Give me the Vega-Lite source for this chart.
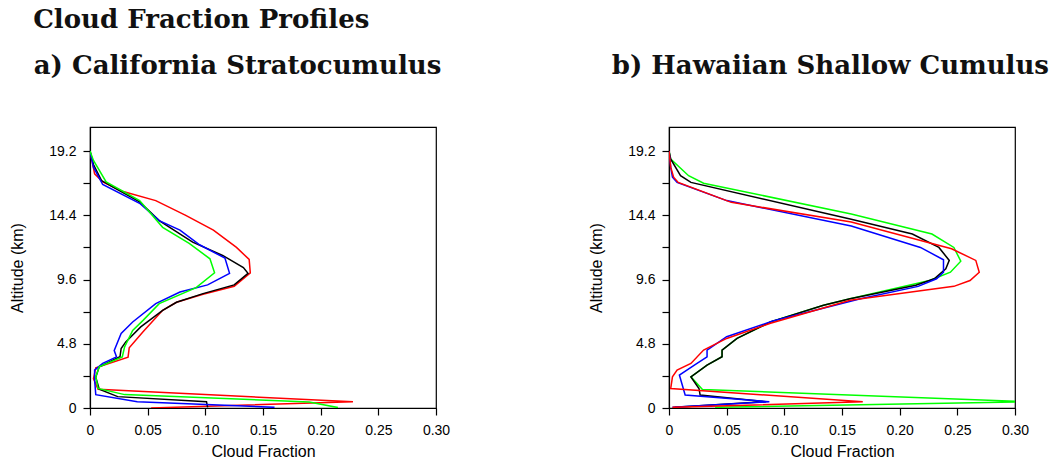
{
  "$schema": "https://vega.github.io/schema/vega-lite/v6.json",
  "padding": {"left": 9, "top": 7, "right": 0, "bottom": 0},
  "background": "white",
  "title": {"text": "Cloud Fraction Profiles", "anchor": "start", "font": "DejaVu Serif", "fontSize": 26, "fontWeight": "bold", "color": "#111", "dx": 24, "offset": 19},
  "config": {
    "view": {"stroke": "#000", "strokeWidth": 1.2},
    "axis": {"domainColor": "#000", "tickColor": "#000", "labelColor": "#000", "titleColor": "#000", "labelFont": "Liberation Sans", "titleFont": "Liberation Sans", "labelFontSize": 14, "titleFontSize": 16, "titleFontWeight": "normal", "grid": false, "tickSize": 7, "domainWidth": 1.2, "tickWidth": 1.2}
  },
  "datasets": {
    "a": [
      {"s":"red","cf":0,"alt":19.2},{"s":"red","cf":0.004,"alt":17.5},{"s":"red","cf":0.011,"alt":16.9},{"s":"red","cf":0.028,"alt":16.2},{"s":"red","cf":0.057,"alt":15.5},{"s":"red","cf":0.083,"alt":14.4},{"s":"red","cf":0.107,"alt":13.3},{"s":"red","cf":0.127,"alt":12.0},{"s":"red","cf":0.138,"alt":11.1},{"s":"red","cf":0.139,"alt":10.1},{"s":"red","cf":0.125,"alt":9.1},{"s":"red","cf":0.098,"alt":8.5},{"s":"red","cf":0.075,"alt":7.9},{"s":"red","cf":0.063,"alt":7.3},{"s":"red","cf":0.046,"alt":5.7},{"s":"red","cf":0.034,"alt":4.5},{"s":"red","cf":0.033,"alt":3.8},{"s":"red","cf":0.005,"alt":3.0},{"s":"red","cf":0.003,"alt":2.2},{"s":"red","cf":0.007,"alt":1.4},{"s":"red","cf":0.228,"alt":0.47},{"s":"red","cf":0.053,"alt":0.0},
      {"s":"black","cf":0,"alt":19.2},{"s":"black","cf":0.003,"alt":18.2},{"s":"black","cf":0.01,"alt":17.0},{"s":"black","cf":0.02,"alt":16.5},{"s":"black","cf":0.043,"alt":15.4},{"s":"black","cf":0.06,"alt":14.0},{"s":"black","cf":0.089,"alt":12.4},{"s":"black","cf":0.115,"alt":11.4},{"s":"black","cf":0.133,"alt":10.5},{"s":"black","cf":0.137,"alt":10.06},{"s":"black","cf":0.125,"alt":9.2},{"s":"black","cf":0.098,"alt":8.55},{"s":"black","cf":0.075,"alt":7.9},{"s":"black","cf":0.063,"alt":7.3},{"s":"black","cf":0.044,"alt":6.06},{"s":"black","cf":0.031,"alt":4.94},{"s":"black","cf":0.027,"alt":4.45},{"s":"black","cf":0.026,"alt":3.83},{"s":"black","cf":0.008,"alt":3.08},{"s":"black","cf":0.005,"alt":2.3},{"s":"black","cf":0.008,"alt":1.4},{"s":"black","cf":0.024,"alt":0.85},{"s":"black","cf":0.101,"alt":0.47},{"s":"black","cf":0.102,"alt":0.05},
      {"s":"blue","cf":0,"alt":19.2},{"s":"blue","cf":0.003,"alt":18.0},{"s":"blue","cf":0.011,"alt":16.7},{"s":"blue","cf":0.043,"alt":15.3},{"s":"blue","cf":0.06,"alt":14.0},{"s":"blue","cf":0.078,"alt":13.3},{"s":"blue","cf":0.095,"alt":12.2},{"s":"blue","cf":0.117,"alt":11.2},{"s":"blue","cf":0.121,"alt":10.06},{"s":"blue","cf":0.102,"alt":9.2},{"s":"blue","cf":0.078,"alt":8.67},{"s":"blue","cf":0.057,"alt":7.8},{"s":"blue","cf":0.037,"alt":6.43},{"s":"blue","cf":0.027,"alt":5.57},{"s":"blue","cf":0.021,"alt":4.3},{"s":"blue","cf":0.023,"alt":3.82},{"s":"blue","cf":0.011,"alt":3.33},{"s":"blue","cf":0.004,"alt":2.83},{"s":"blue","cf":0.004,"alt":2.1},{"s":"blue","cf":0.005,"alt":1.0},{"s":"blue","cf":0.041,"alt":0.47},{"s":"blue","cf":0.16,"alt":0.05},
      {"s":"green","cf":0,"alt":19.2},{"s":"green","cf":0.003,"alt":18.5},{"s":"green","cf":0.014,"alt":16.9},{"s":"green","cf":0.043,"alt":15.5},{"s":"green","cf":0.063,"alt":13.5},{"s":"green","cf":0.086,"alt":12.3},{"s":"green","cf":0.104,"alt":11.15},{"s":"green","cf":0.108,"alt":10.1},{"s":"green","cf":0.092,"alt":9.0},{"s":"green","cf":0.06,"alt":7.8},{"s":"green","cf":0.046,"alt":6.55},{"s":"green","cf":0.037,"alt":5.8},{"s":"green","cf":0.030,"alt":4.57},{"s":"green","cf":0.028,"alt":3.82},{"s":"green","cf":0.008,"alt":3.08},{"s":"green","cf":0.005,"alt":2.33},{"s":"green","cf":0.007,"alt":1.46},{"s":"green","cf":0.03,"alt":1.0},{"s":"green","cf":0.19,"alt":0.45},{"s":"green","cf":0.215,"alt":0.03}
    ],
    "b": [
      {"s":"green","cf":0,"alt":19.2},{"s":"green","cf":0.0015,"alt":18.6},{"s":"green","cf":0.017,"alt":17.36},{"s":"green","cf":0.03,"alt":16.8},{"s":"green","cf":0.158,"alt":14.5},{"s":"green","cf":0.228,"alt":13.0},{"s":"green","cf":0.247,"alt":12.0},{"s":"green","cf":0.253,"alt":10.97},{"s":"green","cf":0.244,"alt":10.15},{"s":"green","cf":0.226,"alt":9.53},{"s":"green","cf":0.157,"alt":8.16},{"s":"green","cf":0.134,"alt":7.68},{"s":"green","cf":0.088,"alt":6.44},{"s":"green","cf":0.059,"alt":5.2},{"s":"green","cf":0.046,"alt":4.33},{"s":"green","cf":0.046,"alt":3.83},{"s":"green","cf":0.033,"alt":3.2},{"s":"green","cf":0.019,"alt":2.33},{"s":"green","cf":0.029,"alt":1.39},{"s":"green","cf":0.31,"alt":0.47},{"s":"green","cf":0.04,"alt":0.05},
      {"s":"black","cf":0,"alt":19.2},{"s":"black","cf":0.0015,"alt":18.6},{"s":"black","cf":0.01,"alt":17.36},{"s":"black","cf":0.019,"alt":16.86},{"s":"black","cf":0.158,"alt":14.1},{"s":"black","cf":0.211,"alt":13.0},{"s":"black","cf":0.234,"alt":12.0},{"s":"black","cf":0.243,"alt":11.03},{"s":"black","cf":0.240,"alt":10.4},{"s":"black","cf":0.23,"alt":9.66},{"s":"black","cf":0.214,"alt":9.17},{"s":"black","cf":0.157,"alt":8.16},{"s":"black","cf":0.134,"alt":7.68},{"s":"black","cf":0.088,"alt":6.44},{"s":"black","cf":0.059,"alt":5.2},{"s":"black","cf":0.046,"alt":4.33},{"s":"black","cf":0.046,"alt":3.83},{"s":"black","cf":0.033,"alt":3.2},{"s":"black","cf":0.019,"alt":2.33},{"s":"black","cf":0.026,"alt":1.46},{"s":"black","cf":0.027,"alt":0.97},{"s":"black","cf":0.084,"alt":0.47},{"s":"black","cf":0.005,"alt":0.05},
      {"s":"blue","cf":0,"alt":19.2},{"s":"blue","cf":0.0015,"alt":18.0},{"s":"blue","cf":0.003,"alt":17.25},{"s":"blue","cf":0.007,"alt":16.86},{"s":"blue","cf":0.05,"alt":15.5},{"s":"blue","cf":0.158,"alt":13.6},{"s":"blue","cf":0.218,"alt":12.0},{"s":"blue","cf":0.238,"alt":11.08},{"s":"blue","cf":0.238,"alt":10.15},{"s":"blue","cf":0.232,"alt":9.66},{"s":"blue","cf":0.216,"alt":9.09},{"s":"blue","cf":0.166,"alt":8.17},{"s":"blue","cf":0.09,"alt":6.5},{"s":"blue","cf":0.05,"alt":5.33},{"s":"blue","cf":0.033,"alt":4.33},{"s":"blue","cf":0.033,"alt":3.83},{"s":"blue","cf":0.022,"alt":3.2},{"s":"blue","cf":0.009,"alt":2.46},{"s":"blue","cf":0.014,"alt":0.97},{"s":"blue","cf":0.087,"alt":0.47},{"s":"blue","cf":0.003,"alt":0.05},
      {"s":"red","cf":0,"alt":19.2},{"s":"red","cf":0.0015,"alt":18.0},{"s":"red","cf":0.004,"alt":17.25},{"s":"red","cf":0.008,"alt":16.86},{"s":"red","cf":0.054,"alt":15.37},{"s":"red","cf":0.158,"alt":13.9},{"s":"red","cf":0.245,"alt":11.9},{"s":"red","cf":0.266,"alt":11.03},{"s":"red","cf":0.269,"alt":10.15},{"s":"red","cf":0.261,"alt":9.53},{"s":"red","cf":0.247,"alt":9.09},{"s":"red","cf":0.157,"alt":8.05},{"s":"red","cf":0.088,"alt":6.33},{"s":"red","cf":0.05,"alt":5.2},{"s":"red","cf":0.03,"alt":4.33},{"s":"red","cf":0.019,"alt":3.33},{"s":"red","cf":0.007,"alt":2.83},{"s":"red","cf":0.003,"alt":2.33},{"s":"red","cf":0.0015,"alt":1.46},{"s":"red","cf":0.168,"alt":0.47},{"s":"red","cf":0.003,"alt":0.05}
    ]
  },
  "spacing": 137,
  "hconcat": [
    {
      "width": 346, "height": 281,
      "title": {"text": "a) California Stratocumulus", "anchor": "start", "font": "DejaVu Serif", "fontSize": 26, "fontWeight": "bold", "color": "#111", "dx": 24, "offset": 48},
      "data": {"name": "a"},
      "mark": {"type": "line", "strokeWidth": 1.5, "clip": true},
      "encoding": {
        "x": {"field": "cf", "type": "quantitative", "scale": {"domain": [0, 0.3], "nice": false, "zero": false}, "axis": {"title": "Cloud Fraction", "values": [0, 0.05, 0.1, 0.15, 0.2, 0.25, 0.3], "labelExpr": "datum.value == 0 ? '0' : format(datum.value, '.2f')", "labelFlush": false, "labelOverlap": false, "labelPadding": 8, "titlePadding": 6}},
        "y": {"field": "alt", "type": "quantitative", "scale": {"domain": [0, 21], "nice": false, "zero": false}, "axis": {"title": "Altitude (km)", "values": [0, 2.4, 4.8, 7.2, 9.6, 12, 14.4, 16.8, 19.2], "labelExpr": "round(datum.value / 2.4) % 2 == 0 ? (datum.value == 0 ? '0' : format(datum.value, '.1f')) : ''", "labelOverlap": false, "labelPadding": 7, "titlePadding": 23}},
        "color": {"field": "s", "type": "nominal", "scale": {"domain": ["black", "red", "green", "blue"], "range": ["#000000", "#ff0000", "#00ff00", "#0000ff"]}, "legend": null},
        "order": {"field": "alt", "sort": "descending"}
      }
    },
    {
      "width": 346, "height": 281,
      "title": {"text": "b) Hawaiian Shallow Cumulus", "anchor": "start", "font": "DejaVu Serif", "fontSize": 26, "fontWeight": "bold", "color": "#111", "dx": 23, "offset": 48},
      "data": {"name": "b"},
      "mark": {"type": "line", "strokeWidth": 1.5, "clip": true},
      "encoding": {
        "x": {"field": "cf", "type": "quantitative", "scale": {"domain": [0, 0.3], "nice": false, "zero": false}, "axis": {"title": "Cloud Fraction", "values": [0, 0.05, 0.1, 0.15, 0.2, 0.25, 0.3], "labelExpr": "datum.value == 0 ? '0' : format(datum.value, '.2f')", "labelFlush": false, "labelOverlap": false, "labelPadding": 8, "titlePadding": 6}},
        "y": {"field": "alt", "type": "quantitative", "scale": {"domain": [0, 21], "nice": false, "zero": false}, "axis": {"title": "Altitude (km)", "values": [0, 2.4, 4.8, 7.2, 9.6, 12, 14.4, 16.8, 19.2], "labelExpr": "round(datum.value / 2.4) % 2 == 0 ? (datum.value == 0 ? '0' : format(datum.value, '.1f')) : ''", "labelOverlap": false, "labelPadding": 7, "titlePadding": 23}},
        "color": {"field": "s", "type": "nominal", "scale": {"domain": ["black", "red", "green", "blue"], "range": ["#000000", "#ff0000", "#00ff00", "#0000ff"]}, "legend": null},
        "order": {"field": "alt", "sort": "descending"}
      }
    }
  ]
}
